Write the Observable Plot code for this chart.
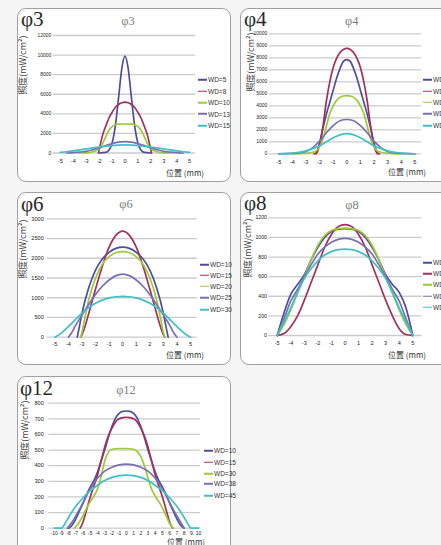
<!DOCTYPE html>
<html><head><meta charset="utf-8">
<script src="https://cdn.jsdelivr.net/npm/d3@7"></script>
<script src="https://cdn.jsdelivr.net/npm/@observablehq/plot@0.6"></script>
<style>
html,body{margin:0;padding:0;background:#f4f4f4;}
#page{position:relative;width:441px;height:545px;overflow:hidden;background:#f5f5f5;font-family:"Liberation Sans",Arial,sans-serif;}
.panel{position:absolute;background:#fff;border:1px solid #a0a0a0;border-radius:9px;box-sizing:border-box;}
.big{position:absolute;font-family:"Liberation Serif","DejaVu Serif",serif;font-size:21px;line-height:1;color:#2a2a2a;white-space:nowrap;}
.ttl{position:absolute;font-family:"Liberation Serif","DejaVu Serif",serif;font-size:12.5px;line-height:1;color:#808080;transform:translate(-50%,-50%);white-space:nowrap;}
.ylab{position:absolute;font-family:"Noto Sans CJK TC","Liberation Sans",sans-serif;font-size:8.9px;line-height:1;color:#444;white-space:nowrap;transform:translate(-50%,-50%) rotate(-90deg);}
.xlab{position:absolute;font-family:"Noto Sans CJK TC","Liberation Sans",sans-serif;font-size:8px;line-height:1;color:#333;white-space:nowrap;transform:translate(0,-50%);}
.leg{position:absolute;font-size:6.5px;line-height:1;color:#333;white-space:nowrap;transform:translate(0,-50%);}
.leg span{display:inline-block;width:9px;height:1.6px;vertical-align:middle;margin-right:1px;position:relative;top:-0.5px;}
svg{position:absolute;}
</style></head>
<body><div id="page"></div>
<script>
// ---------- colours of the five series (legend order) ----------
const seriesColors = ["#4d4f9d", "#a3305d", "#9bcb36", "#7670b4", "#3fc0c8"];

// ---------- tick labels ----------
const ticks5 = [-5,-4,-3,-2,-1,0,1,2,3,4,5];
const ticks10 = [-10,-9,-8,-7,-6,-5,-4,-3,-2,-1,0,1,2,3,4,5,6,7,8,9,10];
const yTicks3 = [0,2000,4000,6000,8000,10000,12000];
const yTicks4 = [0,1000,2000,3000,4000,5000,6000,7000,8000,9000,10000];
const yTicks6 = [0,500,1000,1500,2000,2500,3000];
const yTicks8 = [0,200,400,600,800,1000,1200];
const yTicks12 = [0,100,200,300,400,500,600,700,800];

// ---------- legend labels ----------
const names3 = ["WD=5","WD=8","WD=10","WD=13","WD=15"];
const names4 = ["WD=5","WD=8","WD=10","WD=13","WD=15"];
const names6 = ["WD=10","WD=15","WD=20","WD=25","WD=30"];
const names8 = ["WD=10","WD=15","WD=20","WD=25","WD=30"];
const names12 = ["WD=10","WD=15","WD=30","WD=38","WD=45"];

// ---------- φ3 : [position mm, illuminance mW/cm2] ----------
const phi3_1 = [[-2,0],[-1.5,60],[-1.25,280],[-1,1000],[-0.75,2750],[-0.5,5600],[-0.25,8600],[0,9900],[0.25,8600],[0.5,5600],[0.75,2750],[1,1000],[1.25,280],[1.5,60],[2,0]];
const phi3_2 = [[-2.05,0],[-1.9,900],[-1.75,1750],[-1.5,2700],[-1.25,3550],[-1,4150],[-0.75,4650],[-0.5,4950],[-0.25,5130],[0,5200],[0.25,5130],[0.5,4950],[0.75,4650],[1,4150],[1.25,3550],[1.5,2700],[1.75,1750],[1.9,900],[2.05,0]];
const phi3_3 = [[-3.5,0],[-3,20],[-2.5,130],[-2,420],[-1.75,900],[-1.5,1650],[-1.25,2300],[-1,2700],[-0.75,2880],[-0.5,2940],[0,2960],[0.5,2940],[0.75,2880],[1,2700],[1.25,2300],[1.5,1650],[1.75,900],[2,420],[2.5,130],[3,20],[3.5,0]];
const phi3_4 = [[-4.5,0],[-4,30],[-3.5,90],[-3,170],[-2.5,330],[-2,520],[-1.5,760],[-1,960],[-0.5,1110],[0,1170],[0.5,1110],[1,960],[1.5,760],[2,520],[2.5,330],[3,170],[3.5,90],[4,30],[4.5,0]];
const phi3_5 = [[-5,60],[-4.5,130],[-4,220],[-3.5,320],[-3,420],[-2.5,520],[-2,610],[-1.5,690],[-1,760],[-0.5,800],[0,820],[0.5,800],[1,760],[1.5,690],[2,610],[2.5,520],[3,420],[3.5,320],[4,220],[4.5,130],[5,60]];

// ---------- φ4 ----------
const phi4_1 = [[-2.25,0],[-2,900],[-1.75,2150],[-1.5,3300],[-1.25,4300],[-1,5300],[-0.75,6300],[-0.5,7100],[-0.25,7700],[0,7850],[0.25,7700],[0.5,7100],[0.75,6300],[1,5300],[1.25,4300],[1.5,3300],[1.75,2150],[2,900],[2.25,0]];
const phi4_2 = [[-2.4,0],[-2.2,100],[-2,700],[-1.75,2300],[-1.5,4400],[-1.25,6000],[-1,7200],[-0.75,7950],[-0.5,8450],[-0.25,8700],[0,8780],[0.25,8700],[0.5,8450],[0.75,7950],[1,7200],[1.25,6000],[1.5,4400],[1.75,2300],[2,700],[2.2,100],[2.4,0]];
const phi4_3 = [[-4,0],[-3.5,20],[-3,50],[-2.5,130],[-2.25,250],[-2,580],[-1.75,1250],[-1.5,2300],[-1.25,3350],[-1,4000],[-0.75,4450],[-0.5,4700],[-0.25,4820],[0,4850],[0.25,4820],[0.5,4700],[0.75,4450],[1,4000],[1.25,3350],[1.5,2300],[1.75,1250],[2,580],[2.25,250],[2.5,130],[3,50],[3.5,20],[4,0]];
const phi4_4 = [[-5,0],[-4.5,10],[-4,30],[-3.5,80],[-3,200],[-2.5,520],[-2,1050],[-1.5,1750],[-1,2350],[-0.5,2750],[0,2860],[0.5,2750],[1,2350],[1.5,1750],[2,1050],[2.5,520],[3,200],[3.5,80],[4,30],[4.5,10],[5,0]];
const phi4_5 = [[-5,5],[-4.5,25],[-4,60],[-3.5,120],[-3,240],[-2.5,430],[-2,680],[-1.5,1000],[-1,1330],[-0.5,1580],[0,1680],[0.5,1580],[1,1330],[1.5,1000],[2,680],[2.5,430],[3,240],[3.5,120],[4,60],[4.5,25],[5,5]];

// ---------- φ6 ----------
const phi6_1 = [[-3.35,0],[-3.2,250],[-3,600],[-2.5,1250],[-2,1700],[-1.5,1980],[-1,2150],[-0.5,2250],[0,2280],[0.5,2250],[1,2150],[1.5,1980],[2,1700],[2.5,1250],[3,600],[3.2,250],[3.35,0]];
const phi6_2 = [[-3.1,0],[-3,60],[-2.75,300],[-2.5,600],[-2,1220],[-1.5,1800],[-1,2280],[-0.5,2580],[0,2690],[0.5,2580],[1,2280],[1.5,1800],[2,1220],[2.5,600],[2.75,300],[3,60],[3.1,0]];
const phi6_3 = [[-3.1,0],[-3,120],[-2.75,550],[-2.5,950],[-2,1500],[-1.5,1850],[-1,2040],[-0.5,2140],[0,2170],[0.5,2140],[1,2040],[1.5,1850],[2,1500],[2.5,950],[2.75,550],[3,120],[3.1,0]];
const phi6_4 = [[-4,0],[-3.75,120],[-3.5,280],[-3,560],[-2.5,830],[-2,1080],[-1.5,1290],[-1,1450],[-0.5,1560],[0,1600],[0.5,1560],[1,1450],[1.5,1290],[2,1080],[2.5,830],[3,560],[3.5,280],[3.75,120],[4,0]];
const phi6_5 = [[-5,0],[-4.5,110],[-4,270],[-3.5,440],[-3,610],[-2.5,750],[-2,860],[-1.5,940],[-1,995],[-0.5,1025],[0,1035],[0.5,1025],[1,995],[1.5,940],[2,860],[2.5,750],[3,610],[3.5,440],[4,270],[4.5,110],[5,0]];

// ---------- φ8 ----------
const phi8_1 = [[-5,0],[-4.5,230],[-4,420],[-3.5,520],[-3,620],[-2.5,770],[-2,900],[-1.5,1000],[-1,1060],[-0.5,1085],[0,1090],[0.5,1085],[1,1060],[1.5,1000],[2,900],[2.5,770],[3,620],[3.5,520],[4,440],[4.5,280],[5,0]];
const phi8_2 = [[-5,0],[-4.5,20],[-4,90],[-3.5,200],[-3,360],[-2.5,540],[-2,720],[-1.5,900],[-1,1030],[-0.5,1110],[0,1130],[0.5,1110],[1,1030],[1.5,900],[2,720],[2.5,540],[3,360],[3.5,200],[4,70],[4.5,10],[5,0]];
const phi8_3 = [[-5,0],[-4.5,110],[-4,260],[-3.5,430],[-3,600],[-2.5,770],[-2,920],[-1.5,1020],[-1,1070],[-0.5,1090],[0,1095],[0.5,1090],[1,1070],[1.5,1020],[2,920],[2.5,770],[3,600],[3.5,430],[4,260],[4.5,110],[5,0]];
const phi8_4 = [[-5,0],[-4.5,170],[-4,350],[-3.5,470],[-3,600],[-2.5,720],[-2,830],[-1.5,900],[-1,950],[-0.5,980],[0,990],[0.5,980],[1,950],[1.5,900],[2,830],[2.5,720],[3,600],[3.5,470],[4,350],[4.5,170],[5,0]];
const phi8_5 = [[-5,0],[-4.5,140],[-4,280],[-3.5,440],[-3,580],[-2.5,680],[-2,760],[-1.5,820],[-1,855],[-0.5,875],[0,880],[0.5,875],[1,855],[1.5,820],[2,760],[2.5,680],[3,580],[3.5,440],[4,280],[4.5,140],[5,0]];

// ---------- φ12 ----------
const phi12_1 = [[-8,0],[-7.5,20],[-7,60],[-6.5,110],[-6,160],[-5.5,215],[-5,265],[-4.5,305],[-4,360],[-3.5,430],[-3,500],[-2.5,580],[-2,650],[-1.5,705],[-1,735],[-0.5,748],[0,750],[0.5,748],[1,735],[1.5,705],[2,650],[2.5,580],[3,500],[3.5,430],[4,360],[4.5,305],[5,265],[5.5,215],[6,160],[6.5,110],[7,60],[7.5,20],[8,0]];
const phi12_2 = [[-6.4,0],[-6,40],[-5.5,120],[-5,200],[-4.5,270],[-4,340],[-3.5,430],[-3,520],[-2.5,590],[-2,640],[-1.5,680],[-1,700],[-0.5,708],[0,710],[0.5,708],[1,700],[1.5,680],[2,640],[2.5,590],[3,520],[3.5,430],[4,340],[4.5,270],[5,200],[5.5,120],[6,40],[6.4,0]];
const phi12_3 = [[-7.2,0],[-6.5,40],[-6,80],[-5.5,130],[-5,170],[-4.5,205],[-4,250],[-3.5,330],[-3,430],[-2.5,485],[-2,505],[-1,510],[0,510],[1,505],[1.5,490],[2,460],[2.5,400],[3,320],[3.5,250],[4,205],[4.5,170],[5,130],[5.5,80],[6,30],[6.5,0]];
const phi12_4 = [[-8.2,0],[-7.5,40],[-7,80],[-6.5,120],[-6,165],[-5.5,210],[-5,250],[-4.5,290],[-4,320],[-3.5,345],[-3,365],[-2,390],[-1,405],[0,410],[1,405],[2,390],[3,365],[3.5,345],[4,320],[4.5,290],[5,250],[5.5,210],[6,165],[6.5,120],[7,80],[7.5,40],[8,0]];
const phi12_5 = [[-10,0],[-9,0],[-8.5,30],[-8,70],[-7,140],[-6,195],[-5,240],[-4,275],[-3,305],[-2,325],[-1,337],[0,340],[1,337],[2,325],[3,305],[4,275],[5,240],[6,195],[7,140],[8,70],[8.5,30],[9,0],[10,0]];

// ---------- text ----------
const bigLabels = ["φ3","φ4","φ6","φ8","φ12"];
const titles = ["φ3","φ4","φ6","φ8","φ12"];
const yLabel = "照度(mW/cm²)";
const xLabel = "位置 (mm)";

// ---------- layout (page pixels) ----------
const panels = [
  {box:{l:17,t:8,w:214,h:174}, area:{x0:52.7,x1:195,y0:35,y1:152.5}, xDomain:[-5.55,5.45], yDomain:[0,12000],
   xTicks:ticks5, yTicks:yTicks3, names:names3, data:[phi3_1,phi3_2,phi3_3,phi3_4,phi3_5],
   yFont:4.9, xFont:5.6, yPad:2, xPad:6, big:[21,9], ttl:[128,21], ylab:[23,65], xlab:[166,173], leg:{x:198,ys:[80,91.7,103,114.5,126]}},
  {box:{l:240,t:8,w:215,h:174}, area:{x0:269,x1:421,y0:33.3,y1:153.3}, xDomain:[-5.68,5.49], yDomain:[0,10000],
   xTicks:ticks5, yTicks:yTicks4, names:names4, data:[phi4_1,phi4_2,phi4_3,phi4_4,phi4_5],
   yFont:4.9, xFont:5.6, yPad:2.3, xPad:6, big:[244,9], ttl:[351.7,21], ylab:[251,62], xlab:[388,172], leg:{x:423,ys:[80,91.7,102.7,114.3,126]}},
  {box:{l:17,t:192,w:214,h:173}, area:{x0:46.7,x1:196.7,y0:218.3,y1:336.7}, xDomain:[-5.56,5.49], yDomain:[0,3000],
   xTicks:ticks5, yTicks:yTicks6, names:names6, data:[phi6_1,phi6_2,phi6_3,phi6_4,phi6_5],
   yFont:5.6, xFont:5.6, yPad:3.4, xPad:4.5, big:[21,194], ttl:[126,203.5], ylab:[23,249], xlab:[166,355], leg:{x:200,ys:[265,275.7,286.7,298.3,310]}},
  {box:{l:240,t:192,w:215,h:173}, area:{x0:268.3,x1:421.5,y0:217.3,y1:335}, xDomain:[-5.62,5.68], yDomain:[0,1200],
   xTicks:ticks5, yTicks:yTicks8, names:names8, data:[phi8_1,phi8_2,phi8_3,phi8_4,phi8_5],
   yFont:5.2, xFont:5.6, yPad:1.8, xPad:6, big:[244,193], ttl:[352,205], ylab:[248,248], xlab:[388,355], leg:{x:423,ys:[263.3,274.3,285,296.7,307.7]}},
  {box:{l:17,t:376,w:214,h:180}, area:{x0:48.3,x1:200,y0:402.7,y1:527.7}, xDomain:[-10.75,10.28], yDomain:[0,800],
   xTicks:ticks10, yTicks:yTicks12, names:names12, data:[phi12_1,phi12_2,phi12_3,phi12_4,phi12_5],
   yFont:5.6, xFont:5, yPad:5, xPad:3.5, big:[20,378], ttl:[126,390], ylab:[25,430], xlab:[167,541.5], leg:{x:204,ys:[451,462.7,474,484.3,496]}}
];

const page = document.getElementById("page");
function el(cls, txt, left, top) {
  const d = document.createElement("div");
  d.className = cls; d.textContent = txt;
  d.style.left = left + "px"; d.style.top = top + "px";
  page.appendChild(d); return d;
}

panels.forEach((p, i) => {
  const b = p.box, a = p.area;
  const box = document.createElement("div");
  box.className = "panel";
  Object.assign(box.style, {left:b.l+"px", top:b.t+"px", width:b.w+"px", height:b.h+"px"});
  page.appendChild(box);

  const fmt = d => String(d);
  const lines = p.data.map((pts, k) => Plot.line(pts, {
    x: d => d[0], y: d => d[1], stroke: seriesColors[k], strokeWidth: 1.7, curve: "monotone-x"
  }));
  const svg = Plot.plot({
    width: b.w, height: b.h,
    marginLeft: a.x0 - b.l, marginRight: b.l + b.w - a.x1,
    marginTop: a.y0 - b.t, marginBottom: b.t + b.h - a.y1,
    style: {background: "transparent", overflow: "visible", fontFamily: "'Liberation Sans', Arial, sans-serif", color: "#222"},
    x: {domain: p.xDomain},
    y: {domain: p.yDomain},
    marks: [
      Plot.ruleY(p.yTicks, {stroke: "#cbcbcb", strokeWidth: 1.3}),
      Plot.axisY(p.yTicks, {tickSize: 0, tickPadding: p.yPad, tickFormat: fmt, fontSize: p.yFont, label: null, fill: "#222"}),
      Plot.axisX(p.xTicks, {tickSize: 0, tickPadding: p.xPad, tickFormat: fmt, fontSize: p.xFont, label: null, fill: "#222"}),
      ...lines
    ]
  });
  svg.style.left = b.l + "px";
  svg.style.top = b.t + "px";
  page.appendChild(svg);

  el("big", bigLabels[i], p.big[0], p.big[1]);
  el("ttl", titles[i], p.ttl[0], p.ttl[1]);
  el("ylab", yLabel, p.ylab[0], p.ylab[1]);
  el("xlab", xLabel, p.xlab[0], p.xlab[1]);
  p.names.forEach((n, k) => {
    const d = el("leg", "", p.leg.x, p.leg.ys[k]);
    const s = document.createElement("span");
    s.style.background = seriesColors[k];
    d.appendChild(s);
    d.appendChild(document.createTextNode(n));
  });
});
</script>
</body></html>
